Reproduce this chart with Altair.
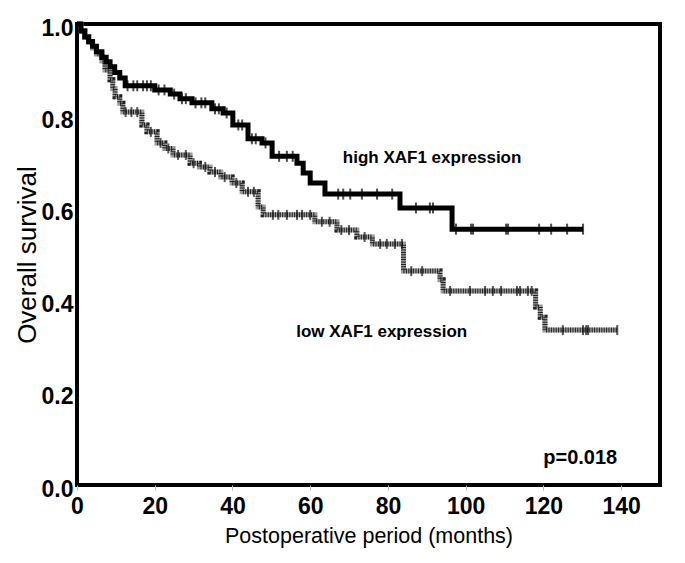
import altair as alt
import pandas as pd

# ---- data ----
high_t = [0, 1, 2, 3, 4, 5, 6.4, 7.5, 8.5, 9.7, 11, 12.4, 20, 24, 26.5, 29.6, 34.7, 37.6, 40.1,
          44, 47.6, 50.2, 56.6, 58.2, 60, 63.8, 83.1, 96.5, 130.2]
high_s = [1.0, 0.985, 0.972, 0.962, 0.952, 0.94, 0.928, 0.918, 0.907, 0.895, 0.883, 0.866, 0.857,
          0.848, 0.838, 0.829, 0.816, 0.807, 0.781, 0.751, 0.742, 0.713, 0.698, 0.677, 0.655,
          0.631, 0.601, 0.555, 0.555]

low_t = [0, 1, 2, 3, 4, 5, 6.4, 7.2, 8.5, 9.2, 9.8, 11, 11.8, 16.7, 18, 20.6, 22.6, 24.7, 29.1,
         31.5, 34.2, 37, 39.9, 42.5, 46.6, 47.9, 61.2, 66.9, 72, 76, 84, 93.4, 94.2, 118, 119.2,
         120.4, 139]
low_s = [1.0, 0.985, 0.972, 0.96, 0.948, 0.935, 0.92, 0.9, 0.879, 0.86, 0.842, 0.828, 0.809,
         0.781, 0.766, 0.742, 0.73, 0.716, 0.698, 0.69, 0.679, 0.668, 0.655, 0.636, 0.603, 0.586,
         0.571, 0.553, 0.538, 0.523, 0.464, 0.445, 0.421, 0.386, 0.364, 0.336, 0.336]

high_censor = [13, 14.5, 15.5, 17, 18, 19, 21, 22.5, 25, 27, 28, 30.5, 32, 33, 35.5, 36.5, 38.5,
               41.5, 42.5, 45, 46, 48.5, 52, 54, 55.5, 67.2, 68.5, 70.3, 73.3, 77.2, 81.1, 87.2,
               90.8, 91.6, 97.5, 101.4, 101.9, 110.4, 110.9, 118.9, 122, 126.1, 130.2]
low_censor = [12.5, 14, 15.5, 19, 21.5, 23.5, 26, 28, 30, 33, 35.5, 38, 41, 44, 45.5, 50.4, 51.8,
              54, 56.6, 57.9, 60, 63, 65, 68, 70, 74, 78, 79.7, 81.8, 83.6, 86, 88.8, 96, 101.1,
              105, 107, 109.1, 113.2, 114, 116, 117, 125, 130.2, 131, 131.5, 139]

labels = ["high XAF1 expression", "low XAF1 expression"]
label_t = [68.4, 56.4]
label_s = [0.709, 0.332]
pvalue = "p=0.018"

x_ticks = [0, 20, 40, 60, 80, 100, 120, 140]
y_ticks = [0.0, 0.2, 0.4, 0.6, 0.8, 1.0]


def step_value(ts, ss, x):
    v = ss[0]
    for t, s in zip(ts, ss):
        if t <= x:
            v = s
    return v


high_df = pd.DataFrame({"t": high_t, "s": high_s})
low_df = pd.DataFrame({"t": low_t, "s": low_s})
high_c = pd.DataFrame({"t": high_censor, "s": [step_value(high_t, high_s, c) for c in high_censor]})
low_c = pd.DataFrame({"t": low_censor, "s": [step_value(low_t, low_s, c) for c in low_censor]})
lab_df = pd.DataFrame({"t": label_t, "s": label_s, "label": labels})
p_df = pd.DataFrame({"t": [139], "s": [0.059], "label": [pvalue]})

FONT = "Liberation Sans"

X = alt.X("t:Q",
          scale=alt.Scale(domain=[0, 150], nice=False, zero=False),
          axis=alt.Axis(values=x_ticks, title="Postoperative period (months)", grid=False,
                        domain=False, ticks=True, tickSize=5, tickColor="#bbbbbb",
                        labelFont=FONT, labelFontSize=23, labelFontWeight="bold",
                        labelColor="black", labelPadding=5, labelFlush=False,
                        labelOverlap=False, labelBound=False,
                        titleFont=FONT, titleFontSize=21.5, titleFontWeight="normal",
                        titleColor="black", titleY=57, titleBaseline="alphabetic"))
Y = alt.Y("s:Q",
          scale=alt.Scale(domain=[0, 1], nice=False, zero=False),
          axis=alt.Axis(values=y_ticks, format=".1f", title="Overall survival", grid=False,
                        domain=False, ticks=False, labelFont=FONT, labelFontSize=23,
                        labelFontWeight="bold", labelColor="black", labelPadding=4,
                        labelOffset=4, labelFlush=False, labelOverlap=False, labelBound=False,
                        titleFont=FONT, titleFontSize=26, titleFontWeight="normal",
                        titleColor="black", titleX=-50, titleY=230.5, titleAngle=270,
                        titleAlign="center", titleBaseline="middle"))

low_base = alt.Chart(low_df).mark_line(interpolate="step-after", color="#9a9a9a",
                                       strokeWidth=5, strokeCap="butt").encode(x=X, y=Y)
low_hatch = alt.Chart(low_df).mark_line(interpolate="step-after", color="#222222",
                                        strokeWidth=5, strokeDash=[1, 1.4],
                                        strokeCap="butt").encode(x=X, y=Y)
low_ticks = alt.Chart(low_c).mark_tick(orient="vertical", color="#111111", size=10,
                                       thickness=2).encode(x=X, y=Y)
high_line = alt.Chart(high_df).mark_line(interpolate="step-after", color="black",
                                         strokeWidth=5, strokeCap="butt").encode(x=X, y=Y)
high_ticks = alt.Chart(high_c).mark_tick(orient="vertical", color="black", size=11,
                                         thickness=2).encode(x=X, y=Y)
texts = alt.Chart(lab_df).mark_text(align="left", baseline="middle", font=FONT, fontSize=17,
                                    fontWeight="bold", color="black").encode(x=X, y=Y, text="label:N")
ptext = alt.Chart(p_df).mark_text(align="right", baseline="middle", font=FONT, fontSize=20,
                                  fontWeight="bold", color="black").encode(x=X, y=Y, text="label:N")

chart = alt.layer(low_base, low_hatch, low_ticks, high_line, high_ticks, texts, ptext).properties(
    width=583, height=461,
    autosize=alt.AutoSizeParams(type="none"),
    padding={"left": 69, "top": 16, "right": 17, "bottom": 70},
    background="white",
).configure_view(stroke="black", strokeWidth=4)

chart.save("out.html", embed_options={"renderer": "svg", "actions": False})
